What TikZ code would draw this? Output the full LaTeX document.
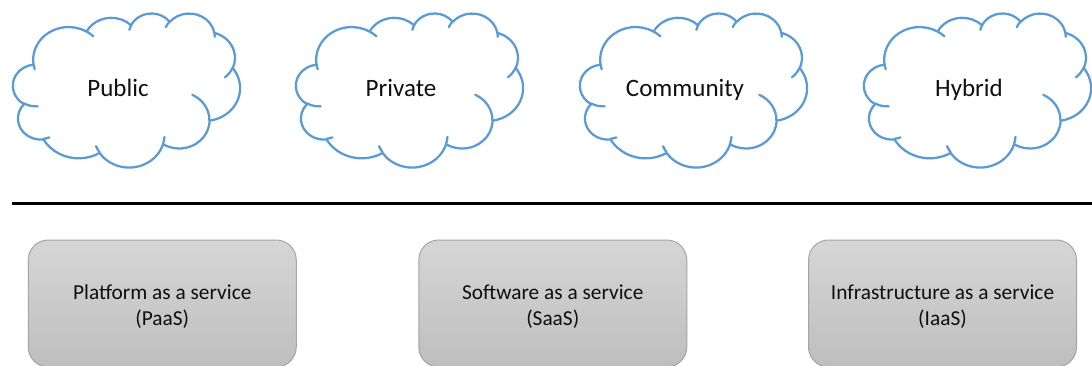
\documentclass[tikz,border=0pt]{standalone}
\usepackage{fontspec}
\setmainfont{Carlito}
\definecolor{cloudblue}{RGB}{91,155,213}
\definecolor{boxtop}{RGB}{214,214,214}
\definecolor{boxbot}{RGB}{190,190,190}
\definecolor{boxline}{RGB}{165,165,165}
\definecolor{txt}{RGB}{15,15,15}
\tikzset{
  ooarc/.code n args={4}{%
    \pgfmathsetmacro\ooS{atan2((#1)*sin(#3),(#2)*cos(#3))}%
    \pgfmathsetmacro\ooE{atan2((#1)*sin((#3)+(#4)),(#2)*cos((#3)+(#4)))}%
    \pgfmathsetmacro\ooD{mod(\ooE-\ooS+720,360)}%
    \edef\ootmp{\noexpand\pgfkeysalso{x radius=#1,y radius=#2,start angle=\ooS,delta angle=\ooD}}\ootmp},
  cloudline/.style={draw=cloudblue, line width=1.7pt, line join=round, line cap=round},
  cloudtext/.style={anchor=base, text=txt, font=\fontsize{18.75pt}{22pt}\selectfont, inner sep=0pt},
  svcbox/.style={draw=boxline, line width=0.75pt, top color=boxtop, bottom color=boxbot,
    rounded corners=15pt, minimum width=201pt, minimum height=95.25pt, inner sep=0pt},
  svctext/.style={align=center, text=txt, inner sep=0pt, yshift=-2.25pt,
    font=\fontsize{16pt}{20pt}\selectfont},
  sepline/.style={draw=black, line width=2.25pt}
}
\newcommand\officecloud[4]{%
\begin{scope}[shift={(#1,#2)}, xscale=#3/432, yscale=#4/432]
 \draw[cloudline] (39.00,143.70)
   arc[ooarc={67.53}{91.90}{-190.4875}{123.7805}]
   arc[ooarc={53.33}{72.67}{-144.1024}{89.9452}]
   arc[ooarc={43.65}{59.45}{-145.8079}{99.7230}]
   arc[ooarc={48.57}{65.95}{-130.9861}{117.2417}]
   arc[ooarc={53.33}{72.73}{-78.7089}{109.0269}]
   arc[ooarc={67.75}{92.20}{-46.2673}{130.2690}]
   arc[ooarc={57.85}{78.67}{0.6250}{114.0333}]
   arc[ooarc={67.52}{92.15}{22.4516}{115.1726}]
   arc[ooarc={77.20}{105.43}{66.2426}{75.7110}]
   arc[ooarc={43.60}{59.18}{-274.9421}{146.7356}]
   arc[ooarc={43.45}{59.45}{-246.8285}{152.5189}]
   -- cycle;
 \draw[cloudline]
   (46.93,261.77) arc[ooarc={43.45}{59.45}{86.7420}{26.4295}]
   (69.28,348.99) arc[ooarc={43.60}{59.18}{73.6105}{11.4475}]
   (164.78,390.90) arc[ooarc={67.52}{92.15}{137.6242}{14.0811}]
   (288.27,347.51) arc[ooarc={67.52}{92.15}{6.4533}{15.9984}]
   (341.29,229.54) arc[ooarc={57.85}{78.67}{-70.2924}{70.9174}]
   (417.98,153.54) arc[ooarc={53.33}{72.73}{30.3180}{27.7515}]
   (383.24,54.26) arc[ooarc={48.57}{65.95}{-13.7443}{14.8589}]
   (290.78,39.52) arc[ooarc={48.57}{65.95}{-149.1815}{18.1954}]
   (221.41,47.20) arc[ooarc={43.65}{59.45}{-163.4943}{17.6864}]
   (140.00,51.92) arc[ooarc={67.53}{91.90}{-66.7070}{12.3194}]
   (41.27,157.89) arc[ooarc={67.53}{91.90}{157.6544}{11.8582}];
\end{scope}}
\begin{document}
\begin{tikzpicture}[x=0.75pt,y=-0.75pt]
\useasboundingbox (0,0) rectangle (1092,365);
\fill[white] (0,0) rectangle (1092,365);
% clouds
\officecloud{13}{13}{227}{154}
\officecloud{296}{13}{227}{154}
\officecloud{580}{13}{227}{154}
\officecloud{864}{13}{227}{154}
\node[cloudtext] (public) at (118,96) {Public};
\node[cloudtext] (private) at (401,96) {Private};
\node[cloudtext] (community) at (685,96) {Community};
\node[cloudtext] (hybrid) at (969,96) {Hybrid};
% separator
\coordinate (lineL) at (12,203.5);
\coordinate (lineR) at (1092,203.5);
\draw[sepline] (lineL) -- (lineR);
% service boxes
\node[svcbox] (paas) at (162.25,303.5) {};
\node[svcbox] (saas) at (552.75,303.5) {};
\node[svcbox] (iaas) at (942.5,303.5) {};
\node[svctext] (paasT) at (paas.center) {Platform as a service\\(PaaS)};
\node[svctext] (saasT) at (saas.center) {Software as a service\\(SaaS)};
\node[svctext] (iaasT) at (iaas.center) {Infrastructure as a service\\(IaaS)};
\end{tikzpicture}
\end{document}
